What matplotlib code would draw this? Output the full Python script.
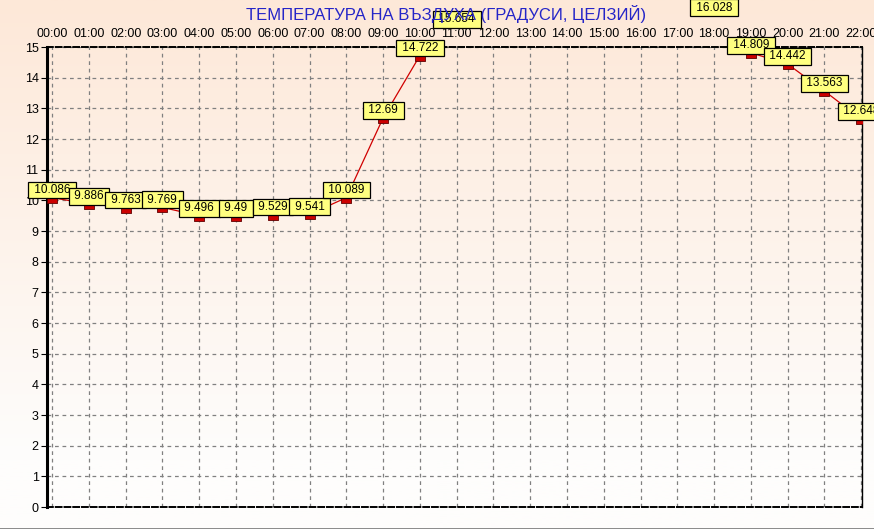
import numpy as np
import matplotlib
matplotlib.use("Agg")
import matplotlib.pyplot as plt
from matplotlib.path import Path

plt.rcParams['font.family'] = ['Liberation Sans', 'DejaVu Sans']

hours = ["00:00", "01:00", "02:00", "03:00", "04:00", "05:00", "06:00", "07:00",
         "08:00", "09:00", "10:00", "11:00", "12:00", "13:00", "14:00", "15:00",
         "16:00", "17:00", "18:00", "19:00", "20:00", "21:00", "22:00"]
# 12:00-17:00 are off the top of the chart in the reference, estimated
temps = [10.086, 9.886, 9.763, 9.769, 9.496, 9.49, 9.529, 9.541,
         10.089, 12.69, 14.722, 15.654, 16.9, 17.4, 17.8, 17.7,
         17.3, 16.8, 16.028, 14.809, 14.442, 13.563, 12.648]
yticks = list(range(0, 16))
title = "ТЕМПЕРАТУРА НА ВЪЗДУХА (ГРАДУСИ, ЦЕЛЗИЙ)"

W, H = 874, 529
fig = plt.figure(figsize=(W / 100, H / 100), dpi=100)

# background gradient
bg = fig.add_axes([0, 0, 1, 1], zorder=-10)
top = np.array([253, 232, 216]) / 255
bot = np.array([254, 253, 252]) / 255
t = np.linspace(0, 1, 256)[:, None]
t = np.clip(t * 1.15, 0, 1)
grad = top[None, None, :] * (1 - t[:, :, None]) + bot[None, None, :] * t[:, :, None]
bg.imshow(grad, aspect="auto", extent=[0, 1, 0, 1])
bg.axis("off")
bg.plot([0, 1], [0.5 / H, 0.5 / H], color="#808080", lw=2, transform=bg.transAxes)

ax = fig.add_axes([47 / W, 22 / H, 815 / W, 460 / H])
ax.patch.set_alpha(0)
x = np.arange(len(hours))
ax.set_xlim(-0.14, 22.02)
ax.set_ylim(0, 15)

ax.grid(True, ls=(0, (3, 3)), color="#808080", lw=0.9)
ax.set_xticks(x)
ax.set_xticklabels(hours, fontsize=9)
ax.set_yticks(yticks)
ax.set_yticklabels([str(v) for v in yticks], fontsize=9)
ax.xaxis.tick_top()
ax.tick_params(axis="x", length=0, pad=5)
ax.tick_params(axis="y", length=4, pad=2)

ax.spines["left"].set_linewidth(2.2)
ax.spines["right"].set_linewidth(1.0)
for s in ("top", "bottom"):
    ax.spines[s].set_linewidth(1.4)
    ax.spines[s].set_linestyle((0, (3, 1.5)))

# marker hangs just below the data point
rect = Path([(-1, -1), (1, -1), (1, 0), (-1, 0), (-1, -1)],
            [Path.MOVETO, Path.LINETO, Path.LINETO, Path.LINETO, Path.CLOSEPOLY])
ax.plot(x, temps, color="#d00000", lw=0.9, zorder=3)
ax.plot(x, temps, ls="none", marker=rect, ms=6.8, mfc="#cc0000", mec="#600000",
        mew=0.6, zorder=4)

for xi, v in zip(x, temps):
    if v > 16.1:  # label would be above the picture
        continue
    ax.annotate(f" {v:g} ", (xi, v), xytext=(0, 5.5), textcoords="offset points",
                ha="center", va="center", fontsize=8.5, zorder=5, annotation_clip=False,
                bbox=dict(boxstyle="square,pad=0.2", fc="#ffff80", ec="black", lw=0.9))

fig.text(446 / W, 1 - 14 / H, title, color="#2525c8", fontsize=12,
         ha="center", va="center")

fig.savefig("out.png", dpi=100)
